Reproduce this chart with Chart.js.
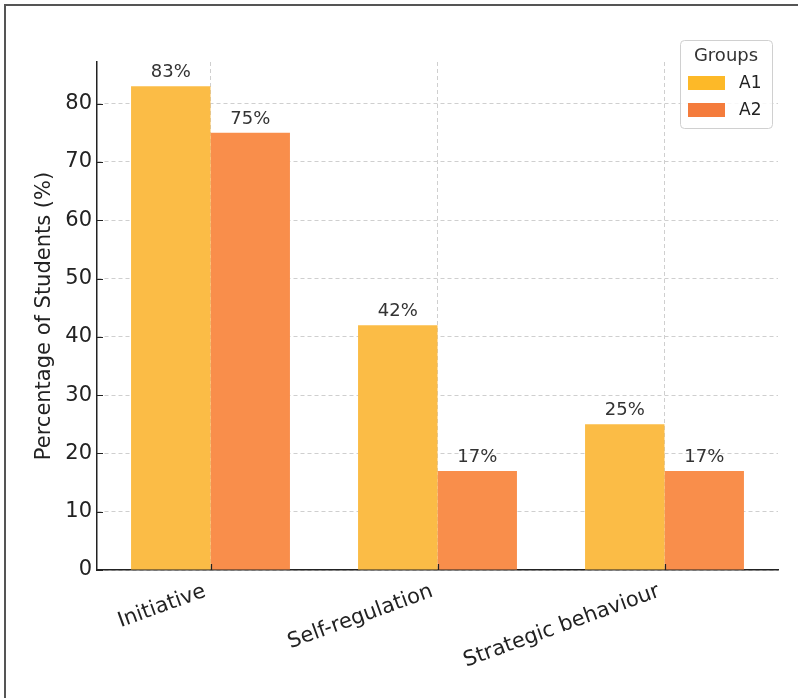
<!DOCTYPE html>
<html>
<head>
<meta charset="utf-8">
<title>Percentage of Students by Group</title>
<script src="https://cdn.jsdelivr.net/npm/chart.js@4.4.1/dist/chart.umd.min.js"></script>
<style>
    body { margin: 0; background: #fff; }
    canvas { display: block; }
</style>
</head>
<body>
<canvas id="groupChart" width="798" height="698"></canvas>
<script>
// data
const categories = ['Initiative', 'Self-regulation', 'Strategic behaviour'];
const groupA1 = [83, 42, 25];
const groupA2 = [75, 17, 17];
const yTicks = [0, 10, 20, 30, 40, 50, 60, 70, 80];

const FONT = 'DejaVu Sans';
const barColors = ['rgb(251, 188, 70)', 'rgb(249, 142, 75)'];
const swatchColors = ['rgb(253, 185, 40)', 'rgb(244, 124, 60)'];

// white page with the top/left frame line
const framePlugin = {
    id: 'frame',
    beforeDraw(chart) {
        const c = chart.ctx;
        c.save();
        c.fillStyle = '#fff';
        c.fillRect(0, 0, chart.width, chart.height);
        c.strokeStyle = '#555';
        c.lineWidth = 2;
        c.beginPath();
        c.moveTo(5, chart.height + 5);
        c.lineTo(5, 5);
        c.lineTo(chart.width + 5, 5);
        c.stroke();
        c.restore();
    }
};

// percent labels above bars, inward tick marks, rotated category labels
const barLabels = {
    id: 'barLabels',
    afterDatasetsDraw(chart) {
        const c = chart.ctx;
        c.save();
        c.font = '18px "' + FONT + '"';
        c.fillStyle = '#333';
        c.textAlign = 'center';
        c.textBaseline = 'alphabetic';
        chart.data.datasets.forEach((ds, i) => {
            chart.getDatasetMeta(i).data.forEach((bar, j) => {
                c.fillText(ds.data[j] + '%', bar.x, bar.y - 9);
            });
        });

        const area = chart.chartArea;
        c.strokeStyle = '#222';
        c.lineWidth = 1.2;
        c.beginPath();
        chart.scales.y.ticks.forEach(t => {
            const py = Math.round(chart.scales.y.getPixelForValue(t.value)) + 0.5;
            c.moveTo(area.left, py);
            c.lineTo(area.left + 6, py);
        });
        chart.scales.x.ticks.forEach((t, i) => {
            const px = Math.round(chart.scales.x.getPixelForTick(i)) + 0.5;
            c.moveTo(px, area.bottom);
            c.lineTo(px, area.bottom - 6);
        });
        c.stroke();

        // category labels, rotated 20 degrees, right end near the tick
        c.font = '21px "' + FONT + '"';
        c.fillStyle = '#222';
        c.textAlign = 'right';
        c.textBaseline = 'top';
        categories.forEach((name, i) => {
            const px = chart.scales.x.getPixelForTick(i);
            c.save();
            c.translate(px - 9, area.bottom + 11);
            c.rotate(-20 * Math.PI / 180);
            c.fillText(name, 0, 0);
            c.restore();
        });
        c.restore();
    }
};

// boxed legend in the upper right corner of the plot
const groupLegend = {
    id: 'groupLegend',
    afterDraw(chart) {
        const c = chart.ctx;
        const area = chart.chartArea;
        const w = 92, h = 88;
        const x = area.right - 98, y = area.top - 22;
        c.save();
        c.fillStyle = 'rgba(255,255,255,0.85)';
        c.strokeStyle = '#d0d0d0';
        c.lineWidth = 1;
        c.beginPath();
        c.roundRect(x + 0.5, y + 0.5, w, h, 4);
        c.fill();
        c.stroke();

        c.fillStyle = '#333';
        c.font = '18px "' + FONT + '"';
        c.textAlign = 'center';
        c.textBaseline = 'middle';
        c.fillText('Groups', x + w / 2, y + 16);

        c.textAlign = 'left';
        c.font = '17px "' + FONT + '"';
        chart.data.datasets.forEach((ds, i) => {
            const rowY = y + 43 + i * 27;
            c.fillStyle = swatchColors[i];
            c.fillRect(x + 8, rowY - 7, 37, 14);
            c.fillStyle = '#222';
            c.fillText(ds.label, x + 59, rowY + 1);
        });
        c.restore();
    }
};

const ctx = document.getElementById('groupChart').getContext('2d');
new Chart(ctx, {
    type: 'bar',
    data: {
        labels: categories,
        datasets: [
            { label: 'A1', data: groupA1, backgroundColor: barColors[0] },
            { label: 'A2', data: groupA2, backgroundColor: barColors[1] }
        ]
    },
    options: {
        responsive: false,
        animation: false,
        layout: { padding: { left: 0, top: 62, right: 20, bottom: 0 } },
        datasets: {
            bar: { barPercentage: 1, categoryPercentage: 0.7 }
        },
        plugins: {
            legend: { display: false },
            tooltip: { enabled: false }
        },
        scales: {
            x: {
                offset: true,
                grid: { offset: false, color: '#cfcfcf', drawTicks: false },
                border: { color: '#222', width: 1.5, dash: [4, 3] },
                ticks: { display: false },
                afterFit(scale) { scale.height = 128; }
            },
            y: {
                min: 0,
                max: 87.15,
                grid: { color: '#cfcfcf', drawTicks: false },
                border: { color: '#222', width: 1.5, dash: [4, 3] },
                ticks: {
                    stepSize: 10,
                    color: '#222',
                    font: { family: FONT, size: 21 },
                    padding: 5
                },
                afterBuildTicks(scale) {
                    scale.ticks = yTicks.map(v => ({ value: v }));
                },
                title: {
                    display: true,
                    text: 'Percentage of Students (%)',
                    color: '#222',
                    font: { family: FONT, size: 21 },
                    padding: { top: 32, bottom: 0 }
                },
                afterFit(scale) { scale.width = 97; }
            }
        }
    },
    plugins: [framePlugin, barLabels, groupLegend]
});
</script>
</body>
</html>
